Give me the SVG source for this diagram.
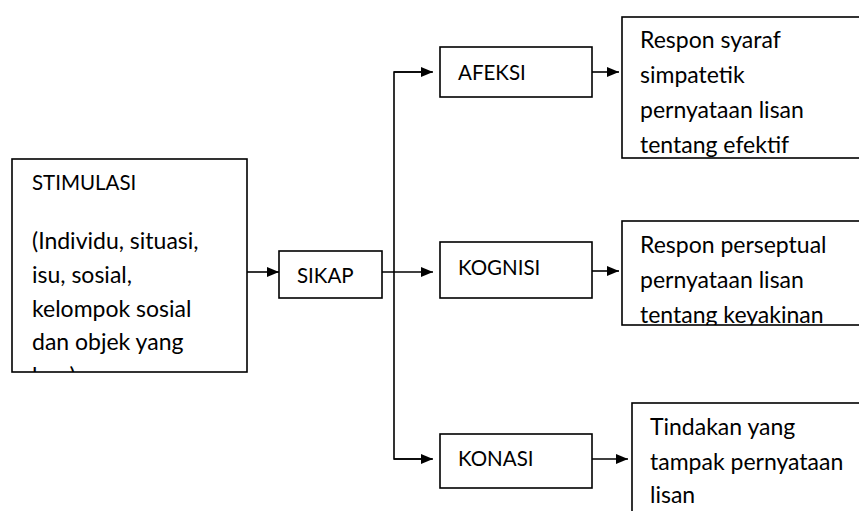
<svg xmlns="http://www.w3.org/2000/svg" width="859" height="511" viewBox="0 0 859 511">
<style>
.box{fill:#fff;stroke:#000;stroke-width:1.6}
.t{font-family:Lato,"Carlito","Open Sans",sans-serif;font-size:23px;fill:#000}
.k{font-family:Lato,"Carlito","Open Sans",sans-serif;font-size:20.5px;fill:#000}
.c{fill:none;stroke:#000;stroke-width:1.6}
</style>
<defs>
<marker id="ah" markerWidth="13" markerHeight="11" refX="12" refY="5.5" orient="auto" markerUnits="userSpaceOnUse">
<path d="M0,0.5 L12,5.5 L0,10.5 Z" fill="#000"/>
</marker>
<clipPath id="cStim"><rect x="12" y="159" width="235" height="213"/></clipPath>
<clipPath id="cAf"><rect x="622" y="17" width="250" height="141"/></clipPath>
<clipPath id="cKo"><rect x="622" y="221" width="250" height="104"/></clipPath>
<clipPath id="cKn"><rect x="632" y="403" width="250" height="120"/></clipPath>
</defs>
<g id="connectors">
<line class="c" x1="247" y1="272" x2="279" y2="272" marker-end="url(#ah)"/>
<line class="c" x1="382" y1="272" x2="433" y2="272" marker-end="url(#ah)"/>
<polyline class="c" points="432,72 394,72 394,459 432,459"/>
<line class="c" x1="394" y1="72" x2="433" y2="72" marker-end="url(#ah)"/>
<line class="c" x1="394" y1="459" x2="433" y2="459" marker-end="url(#ah)"/>
<line class="c" x1="592" y1="72" x2="619" y2="72" marker-end="url(#ah)"/>
<line class="c" x1="592" y1="271" x2="619" y2="271" marker-end="url(#ah)"/>
<line class="c" x1="592" y1="459" x2="628" y2="459" marker-end="url(#ah)"/>
</g>
<g id="stimulasi">
<rect class="box" x="12" y="159" width="235" height="213"/>
<g clip-path="url(#cStim)">
<text class="k" x="32" y="190">STIMULASI</text>
<text class="t" x="32" y="249">(Individu, situasi,</text>
<text class="t" x="32" y="283">isu, sosial,</text>
<text class="t" x="32" y="317">kelompok sosial</text>
<text class="t" x="32" y="350">dan objek yang</text>
<text class="t" x="32" y="384">luar)</text>
</g>
</g>
<g id="sikap">
<rect class="box" x="279" y="251" width="103" height="47"/>
<text class="k" x="297" y="283">SIKAP</text>
</g>
<g id="afeksi">
<rect class="box" x="440" y="47" width="152" height="50"/>
<text class="k" x="458" y="80">AFEKSI</text>
</g>
<g id="kognisi">
<rect class="box" x="440" y="242" width="152" height="56"/>
<text class="k" x="458" y="275">KOGNISI</text>
</g>
<g id="konasi">
<rect class="box" x="440" y="434" width="152" height="54"/>
<text class="k" x="458" y="466">KONASI</text>
</g>
<g id="respon-afeksi">
<rect class="box" x="622" y="17" width="250" height="141"/>
<g clip-path="url(#cAf)">
<text class="t" x="640" y="48">Respon syaraf</text>
<text class="t" x="640" y="83">simpatetik</text>
<text class="t" x="640" y="118">pernyataan lisan</text>
<text class="t" x="640" y="153">tentang efektif</text>
</g>
</g>
<g id="respon-kognisi">
<rect class="box" x="622" y="221" width="250" height="104"/>
<g clip-path="url(#cKo)">
<text class="t" x="640" y="253">Respon perseptual</text>
<text class="t" x="640" y="288">pernyataan lisan</text>
<text class="t" x="640" y="323">tentang keyakinan</text>
</g>
</g>
<g id="respon-konasi">
<rect class="box" x="632" y="403" width="250" height="120"/>
<g clip-path="url(#cKn)">
<text class="t" x="650" y="435">Tindakan yang</text>
<text class="t" x="650" y="470">tampak pernyataan</text>
<text class="t" x="650" y="503">lisan</text>
</g>
</g>
</svg>
